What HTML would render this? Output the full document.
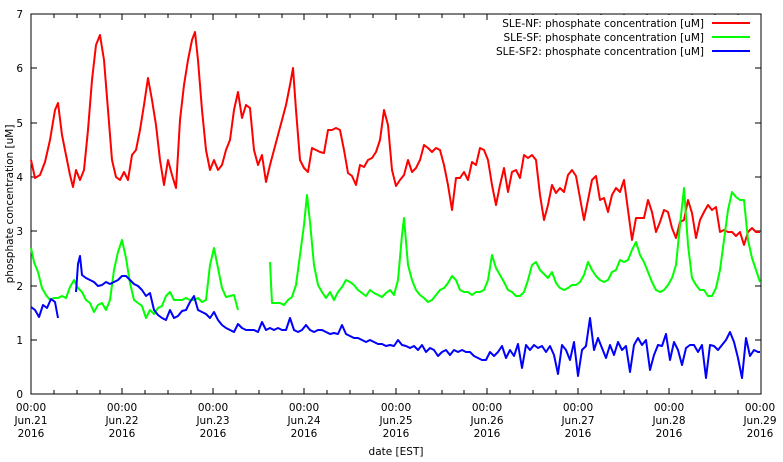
<!DOCTYPE html>
<html><head><meta charset="utf-8"><style>body{margin:0;background:#fff}svg{display:block}text{font-family:"DejaVu Sans","Liberation Sans",sans-serif;font-size:10.5px;fill:#000}</style></head><body>
<svg width="783" height="462" viewBox="0 0 783 462" xmlns="http://www.w3.org/2000/svg">
<rect x="31" y="14" width="730" height="380" fill="none" stroke="#000" stroke-width="1"/>
<g stroke="#000" stroke-width="1" id="ticks">
<path d="M31,394v-6M54,394v-4M77,394v-4M100,394v-4M122,394v-6M145,394v-4M168,394v-4M191,394v-4M213,394v-6M236,394v-4M259,394v-4M282,394v-4M304,394v-6M327,394v-4M350,394v-4M373,394v-4M396,394v-6M419,394v-4M442,394v-4M464,394v-4M487,394v-6M510,394v-4M533,394v-4M556,394v-4M578,394v-6M601,394v-4M624,394v-4M647,394v-4M669,394v-6M692,394v-4M715,394v-4M738,394v-4"/>
<path d="M31,14v6M54,14v4M77,14v4M100,14v4M122,14v6M145,14v4M168,14v4M191,14v4M213,14v6M236,14v4M259,14v4M282,14v4M304,14v6M327,14v4M350,14v4M373,14v4M396,14v6M419,14v4M442,14v4M464,14v4M487,14v6M510,14v4M533,14v4M556,14v4M578,14v6M601,14v4M624,14v4M647,14v4M669,14v6M692,14v4M715,14v4M738,14v4"/>
<path d="M31,394h6M31,340h6M31,286h6M31,231h6M31,177h6M31,123h6M31,68h6M31,14h6M761,340h-6M761,286h-6M761,231h-6M761,177h-6M761,123h-6M761,68h-6"/>
</g>
<g text-anchor="end"><text x="23" y="398">0</text><text x="23" y="344">1</text><text x="23" y="290">2</text><text x="23" y="235">3</text><text x="23" y="181">4</text><text x="23" y="127">5</text><text x="23" y="72">6</text><text x="23" y="18">7</text></g>
<g text-anchor="middle">
<text x="31" y="411">00:00</text><text x="31" y="424">Jun.21</text><text x="31" y="437">2016</text>
<text x="122" y="411">00:00</text><text x="122" y="424">Jun.22</text><text x="122" y="437">2016</text>
<text x="213" y="411">00:00</text><text x="213" y="424">Jun.23</text><text x="213" y="437">2016</text>
<text x="304" y="411">00:00</text><text x="304" y="424">Jun.24</text><text x="304" y="437">2016</text>
<text x="396" y="411">00:00</text><text x="396" y="424">Jun.25</text><text x="396" y="437">2016</text>
<text x="487" y="411">00:00</text><text x="487" y="424">Jun.26</text><text x="487" y="437">2016</text>
<text x="578" y="411">00:00</text><text x="578" y="424">Jun.27</text><text x="578" y="437">2016</text>
<text x="669" y="411">00:00</text><text x="669" y="424">Jun.28</text><text x="669" y="437">2016</text>
<text x="760" y="411">00:00</text><text x="760" y="424">Jun.29</text><text x="760" y="437">2016</text>
<text x="396" y="455">date [EST]</text>
<text transform="translate(13,204) rotate(-90)">phosphate concentration [uM]</text>
</g>
<g fill="none" stroke-width="2" stroke-linejoin="round">
<polyline stroke="#f00" points="31,160 35,178 40,175 45,162 50,140 55,110 58,103 62,135 66,155 70,175 73,187 76,170 80,180 84,170 88,130 92,80 96,45 100,35 104,60 108,110 112,160 116,177 120,180 124,172 128,180 132,155 136,150 140,130 144,105 148,78 152,100 156,125 160,160 164,185 168,160 172,175 176,188 180,120 184,85 188,60 192,40 195,32 198,60 202,110 206,150 210,170 214,160 218,170 222,165 226,150 230,140 234,110 238,92 242,118 246,105 250,108 254,150 258,165 262,155 266,182 270,165 274,150 278,135 282,120 286,105 290,85 293,68 296,110 300,160 304,168 308,172 312,148 316,150 320,152 324,153 328,130 332,130 336,128 340,130 344,150 348,173 352,176 356,185 360,165 364,167 368,160 372,158 376,152 380,140 384,110 388,125 392,170 396,186 400,180 404,175 408,160 412,172 416,168 420,160 424,145 428,148 432,152 436,148 440,150 444,165 448,185 452,210 456,178 460,178 464,172 468,180 472,162 476,165 480,148 484,150 488,160 492,185 496,205 500,185 504,168 508,192 512,172 516,170 520,178 524,155 528,158 532,155 536,160 540,195 544,220 548,205 552,185 556,193 560,188 564,192 568,175 572,170 576,176 580,198 584,220 588,200 592,180 596,176 600,200 604,198 608,212 612,195 616,188 620,192 624,180 628,210 632,240 636,218 640,218 644,218 648,200 652,212 656,232 660,222 664,210 668,212 672,228 676,238 680,222 684,220 688,200 692,213 696,238 700,220 704,212 708,205 712,210 716,207 720,232 724,230 728,232 732,232 736,236 740,232 744,245 748,232 752,228 756,232 760,232"/>
<polyline stroke="#0f0" points="31,248 34,262 38,272 42,288 46,295 50,300 54,298 58,298 62,296 66,298 70,287 74,280 78,288 82,292 86,300 90,303 94,312 98,305 102,303 106,310 110,300 114,270 118,252 122,240 126,258 130,283 134,300 138,303 142,306 146,318 150,310 154,314 158,308 162,306 166,296 170,292 174,300 178,300 182,300 186,298 190,300 194,300 198,298 202,302 206,300 210,265 214,248 218,268 222,288 226,297 230,296 234,295 238,310"/>
<polyline stroke="#0f0" points="270,262 272,303 276,303 280,303 284,305 288,300 292,297 296,285 300,255 304,225 307,195 310,222 314,265 318,285 322,292 326,298 330,292 334,300 338,292 342,287 346,280 350,282 354,285 358,290 362,293 366,296 370,290 374,293 378,295 382,297 386,293 390,290 394,295 398,280 402,235 404,218 408,265 412,280 416,290 420,295 424,298 428,302 432,300 436,295 440,290 444,288 448,283 452,276 456,280 460,290 464,292 468,292 472,295 476,292 480,292 484,290 488,280 492,255 496,268 500,275 504,282 508,290 512,292 516,296 520,296 524,292 528,280 532,265 536,262 540,270 544,274 548,278 552,272 556,283 560,288 564,290 568,288 572,285 576,285 580,282 584,275 588,262 592,270 596,276 600,280 604,282 608,280 612,272 616,270 620,260 624,262 628,260 632,250 636,242 640,255 644,262 648,272 652,282 656,290 660,292 664,290 668,285 672,278 676,265 680,225 684,188 688,245 692,278 696,285 700,290 704,290 708,296 712,296 716,288 720,270 724,240 728,210 732,192 736,197 740,200 744,200 748,240 752,258 756,270 760,282"/>
<polyline stroke="#00f" points="31,307 35,310 39,317 43,305 47,308 51,299 55,302 58,318"/>
<polyline stroke="#00f" points="76,292 78,264 80,256 82,275 86,278 90,280 94,282 98,286 102,285 106,282 110,284 114,282 118,280 122,276 126,276 130,280 134,284 138,286 142,290 146,296 150,293 154,310 158,315 162,318 166,320 170,310 174,318 178,316 182,311 186,310 190,302 194,296 198,310 202,312 206,314 210,318 214,312 218,320 222,325 226,328 230,330 234,332 238,324 242,328 246,330 250,330 254,330 258,332 262,322 266,330 270,328 274,330 278,328 282,330 286,330 290,318 294,330 298,332 302,330 306,325 310,330 314,332 318,330 322,330 326,332 330,334 334,333 338,334 342,325 346,334 350,336 354,338 358,338 362,340 366,342 370,340 374,342 378,344 382,344 386,346 390,345 394,346 398,340 402,345 406,346 410,348 414,346 418,350 422,345 426,352 430,348 434,350 438,356 442,352 446,350 450,355 454,350 458,352 462,350 466,352 470,352 474,356 478,358 482,360 486,360 490,352 494,356 498,352 502,346 506,358 510,350 514,356 518,344 522,368 526,345 530,350 534,345 538,348 542,346 546,352 550,346 554,355 558,374 562,345 566,350 570,360 574,342 578,376 582,350 586,346 590,318 594,350 598,338 602,348 606,358 610,345 614,355 618,342 622,350 626,346 630,372 634,345 638,338 642,345 646,340 650,370 654,355 658,345 662,346 666,334 670,360 674,342 678,350 682,365 686,348 690,345 694,345 698,352 702,345 706,378 710,345 714,346 718,350 722,345 726,340 730,332 734,342 738,358 742,378 746,338 750,356 754,350 758,352 760,352"/>
</g>
<rect x="490" y="15" width="268" height="44" fill="#fff"/>
<g text-anchor="end"><text x="704" y="27">SLE-NF: phosphate concentration [uM]</text><text x="704" y="41">SLE-SF: phosphate concentration [uM]</text><text x="704" y="55">SLE-SF2: phosphate concentration [uM]</text></g>
<g stroke-width="2"><line x1="712" y1="23" x2="750" y2="23" stroke="#f00"/><line x1="712" y1="37" x2="750" y2="37" stroke="#0f0"/><line x1="712" y1="51" x2="750" y2="51" stroke="#00f"/></g>
</svg>
</body></html>
